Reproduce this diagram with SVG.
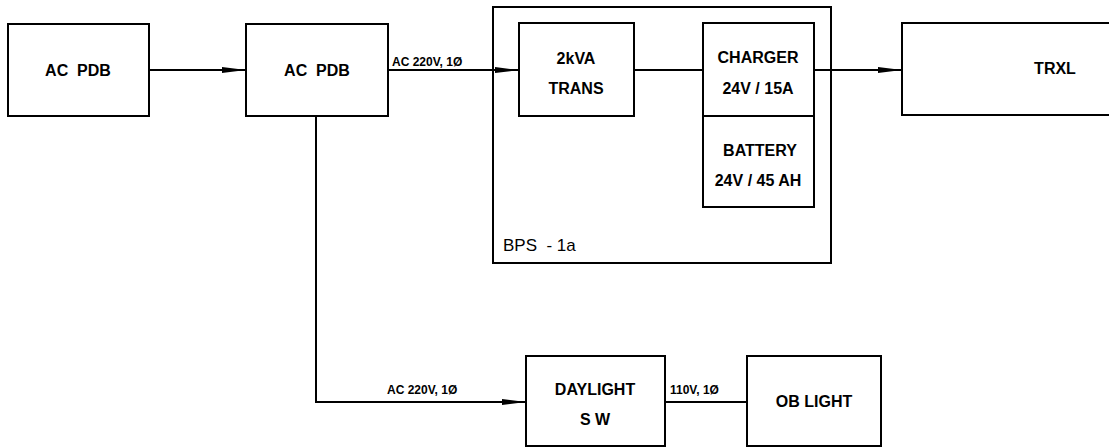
<svg xmlns="http://www.w3.org/2000/svg" width="1109" height="448" viewBox="0 0 1109 448">
<style>
.box{fill:#fff;stroke:#000;stroke-width:2}
.t{font-family:"Liberation Sans",Arial,sans-serif;font-size:16px;font-weight:bold;fill:#000;text-anchor:middle}
.l{font-family:"Liberation Sans",Arial,sans-serif;font-size:12px;font-weight:bold;fill:#000}
.c{fill:none;stroke:#000;stroke-width:2}
</style>
<defs>
<marker id="ah" markerWidth="24" markerHeight="8" refX="24" refY="4" orient="auto" markerUnits="userSpaceOnUse">
<path d="M0,1 L24,4 L0,7 Z" fill="#000"/>
</marker>
</defs>
<rect x="0" y="0" width="1109" height="448" fill="#fff"/>
<g id="bps">
<rect class="box" x="493" y="7" width="338" height="256"/>
<text class="t" x="503" y="251" style="text-anchor:start;font-weight:normal;font-size:17px" xml:space="preserve">BPS  - 1a</text>
</g>
<g id="connectors">
<line class="c" x1="149" y1="70" x2="246" y2="70" marker-end="url(#ah)"/>
<line class="c" x1="388" y1="70" x2="519" y2="70" marker-end="url(#ah)"/>
<line class="c" x1="634" y1="70" x2="703" y2="70"/>
<line class="c" x1="814" y1="70" x2="902" y2="70" marker-end="url(#ah)"/>
<polyline class="c" points="316,116 316,402 526,402" marker-end="url(#ah)"/>
<line class="c" x1="665" y1="402" x2="747" y2="402"/>
<text class="l" x="392" y="66">AC 220V, 1Ø</text>
<text class="l" x="387" y="394">AC 220V, 1Ø</text>
<text class="l" x="670" y="394">110V, 1Ø</text>
</g>
<g id="acpdb1">
<rect class="box" x="8" y="24" width="141" height="92"/>
<text class="t" x="78" y="76" xml:space="preserve">AC  PDB</text>
</g>
<g id="acpdb2">
<rect class="box" x="246" y="24" width="142" height="92"/>
<text class="t" x="317" y="76" xml:space="preserve">AC  PDB</text>
</g>
<g id="trans">
<rect class="box" x="519" y="23" width="115" height="93"/>
<text class="t" x="576" y="64">2kVA</text>
<text class="t" x="576" y="94">TRANS</text>
</g>
<g id="charger">
<rect class="box" x="703" y="23" width="111" height="93"/>
<text class="t" x="758" y="63">CHARGER</text>
<text class="t" x="758" y="94">24V / 15A</text>
</g>
<g id="battery">
<rect class="box" x="703" y="116" width="111" height="91"/>
<text class="t" x="760" y="156">BATTERY</text>
<text class="t" x="758" y="186">24V / 45 AH</text>
</g>
<g id="trxl">
<rect class="box" x="902" y="23" width="220" height="92"/>
<text class="t" x="1055" y="74">TRXL</text>
</g>
<g id="daylight">
<rect class="box" x="526" y="356" width="139" height="90"/>
<text class="t" x="595" y="395">DAYLIGHT</text>
<text class="t" x="595" y="425" xml:space="preserve">S W</text>
</g>
<g id="oblight">
<rect class="box" x="747" y="356" width="134" height="90"/>
<text class="t" x="814" y="407">OB LIGHT</text>
</g>
</svg>
